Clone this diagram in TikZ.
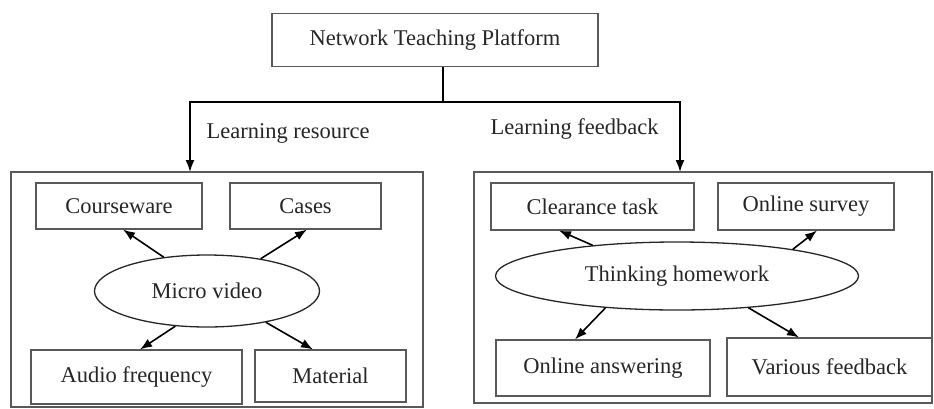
\documentclass[tikz,border=0pt]{standalone}
\usepackage{fontspec}
\setmainfont{Liberation Serif}
\usetikzlibrary{shapes.geometric,calc,arrows.meta}

\begin{document}
\begin{tikzpicture}[x=1pt,y=-1pt,>={Latex[length=12pt,width=9pt]},
	txt/.style={font=\fontsize{22.5}{26}\selectfont,text=black!85},
	box/.style={txt,draw=black!65,line width=1.1pt,inner sep=0pt},
	oval/.style={txt,ellipse,draw=black!85,line width=1.3pt,inner sep=0pt},
	frame/.style={draw=black!65,line width=1.1pt,inner sep=0pt},
	arr/.style={->,line width=1.6pt}]
	\useasboundingbox ( 0, 0 ) rectangle ( 934, 408 );

	% platform
	\node [box, minimum width=326pt, minimum height=53pt] (top) at ( 435, 40 ) {Network Teaching Platform};
	\coordinate (split) at ( 443, 102 );
	\coordinate (lres) at ( 190, 172 );
	\coordinate (lfb) at ( 680, 172 );
	\draw [line width=1.6pt] (top.south -| split) -- (split);
	\draw [arr] (split) -| (lres);
	\draw [arr] (split) -| (lfb);
	\node [txt, anchor=west] (reslabel) at ( 203, 133 ) {Learning resource};
	\node [txt, anchor=west] (fblabel) at ( 487, 129 ) {Learning feedback};

	% learning resource
	\node [frame, minimum width=412pt, minimum height=235pt] (leftframe) at ( 217, 289.5 ) {};
	\node [box, minimum width=166pt, minimum height=46pt] (cw) at ( 119, 206 ) {Courseware};
	\node [box, minimum width=151pt, minimum height=46pt] (cases) at ( 305.5, 206 ) {Cases};
	\node [oval, minimum width=225pt, minimum height=72pt] (micro) at ( 207, 291 ) {Micro video};
	\node [box, minimum width=211pt, minimum height=54pt] (audio) at ( 136.5, 377 ) {Audio frequency};
	\node [box, minimum width=151pt, minimum height=52pt] (mat) at ( 330.5, 376 ) {Material};
	\draw [arr] (micro.142) -- ($(cw.south)+(4,0)$);
	\draw [arr] (micro.31) -- ($(cases.south)+(1.5,0)$);
	\draw [arr] (micro.228) -- ($(audio.north)+(3.5,0)$);
	\draw [arr] (micro.332) -- ($(mat.north)+(-17.5,0)$);

	% learning feedback
	\node [frame, minimum width=458pt, minimum height=231pt] (rightframe) at ( 703, 287.5 ) {};
	\node [box, minimum width=203pt, minimum height=47pt] (clear) at ( 592.5, 206.5 ) {Clearance task};
	\node [box, minimum width=176pt, minimum height=47pt] (survey) at ( 806, 206.5 ) {Online survey};
	\node [oval, minimum width=363pt, minimum height=68pt] (think) at ( 677, 276 ) {Thinking homework};
	\node [box, minimum width=214pt, minimum height=56pt] (answer) at ( 603, 368 ) {Online answering};
	\node [box, minimum width=205pt, minimum height=58pt] (various) at ( 829.5, 367 ) {Various feedback};
	\draw [arr] (think.160) -- ($(clear.south)+(-33.5,0)$);
	\draw [arr] (think.13) -- ($(survey.south)+(11,0)$);
	\draw [arr] (think.204) -- ($(answer.north)+(-28,0)$);
	\draw [arr] (think.336) -- ($(various.north)+(-30.5,0)$);
\end{tikzpicture}
\end{document}
